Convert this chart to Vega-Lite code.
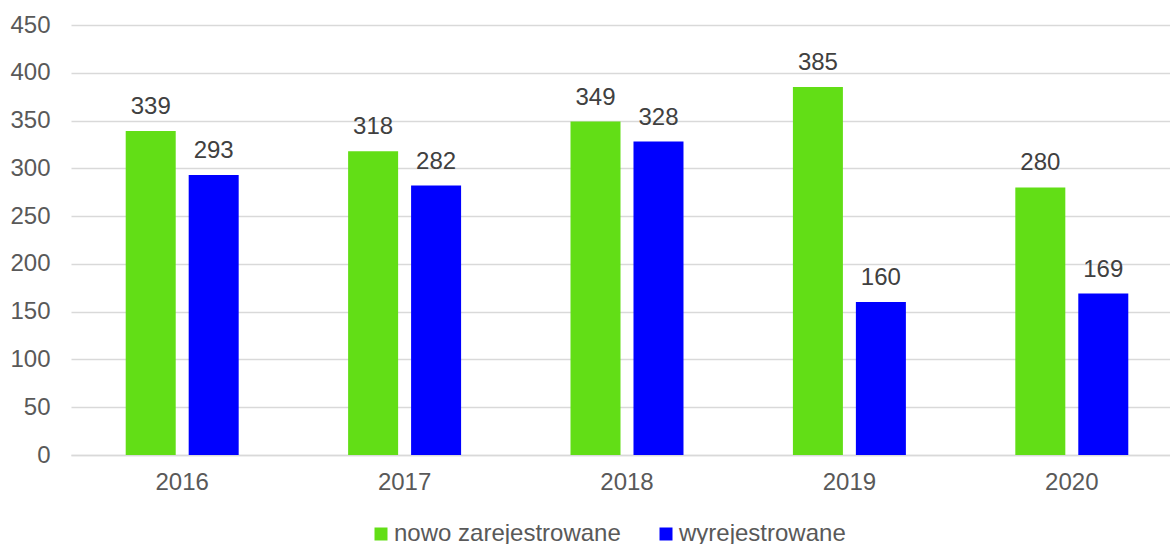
{
  "$schema": "https://vega.github.io/schema/vega-lite/v6.json",
  "width": 1099,
  "height": 430,
  "autosize": {"type": "none"},
  "padding": {"left": 71, "top": 25, "right": 0, "bottom": 89},
  "config": {
    "view": {"stroke": null},
    "font": "Liberation Sans",
    "axis": {"labelColor": "#595959", "labelFont": "Liberation Sans", "labelFontSize": 24, "gridColor": "#d9d9d9", "gridWidth": 1.3, "domainColor": "#d9d9d9", "domainWidth": 1.3, "ticks": false, "title": null}
  },
  "data": {"values": [
    {"year": "2016", "series": "nowo zarejestrowane", "value": 339},
    {"year": "2016", "series": "wyrejestrowane", "value": 293},
    {"year": "2017", "series": "nowo zarejestrowane", "value": 318},
    {"year": "2017", "series": "wyrejestrowane", "value": 282},
    {"year": "2018", "series": "nowo zarejestrowane", "value": 349},
    {"year": "2018", "series": "wyrejestrowane", "value": 328},
    {"year": "2019", "series": "nowo zarejestrowane", "value": 385},
    {"year": "2019", "series": "wyrejestrowane", "value": 160},
    {"year": "2020", "series": "nowo zarejestrowane", "value": 280},
    {"year": "2020", "series": "wyrejestrowane", "value": 169}
  ]},
  "encoding": {
    "x": {"field": "year", "type": "nominal", "scale": {"range": [0, 1112], "paddingInner": 0.492, "paddingOuter": 0.246}, "axis": {"labelAngle": 0, "labelPadding": 15, "labelFontSize": 24, "grid": false, "domain": true}},
    "xOffset": {"field": "series", "type": "nominal", "scale": {"paddingInner": 0.206, "paddingOuter": 0}},
    "y": {"field": "value", "type": "quantitative", "scale": {"domain": [0, 450]}, "axis": {"values": [0,50,100,150,200,250,300,350,400,450], "domain": false, "labelPadding": 21, "labelFontSize": 24, "grid": true}}
  },
  "layer": [
    {
      "mark": {"type": "bar"},
      "encoding": {
        "color": {"field": "series", "type": "nominal", "scale": {"domain": ["nowo zarejestrowane", "wyrejestrowane"], "range": ["#62de16", "#0000ff"]},
          "legend": {"title": null, "orient": "none", "direction": "horizontal", "legendX": 298, "legendY": 497, "symbolType": "square", "symbolSize": 169, "symbolStrokeWidth": 0, "labelFontSize": 24, "labelColor": "#595959", "labelFont": "Liberation Sans", "labelOffset": 1, "labelLimit": 500, "columnPadding": 33}}
      }
    },
    {
      "mark": {"type": "text", "baseline": "alphabetic", "dy": -17, "fontSize": 24, "color": "#404040"},
      "encoding": {"text": {"field": "value", "type": "quantitative"}}
    }
  ]
}
